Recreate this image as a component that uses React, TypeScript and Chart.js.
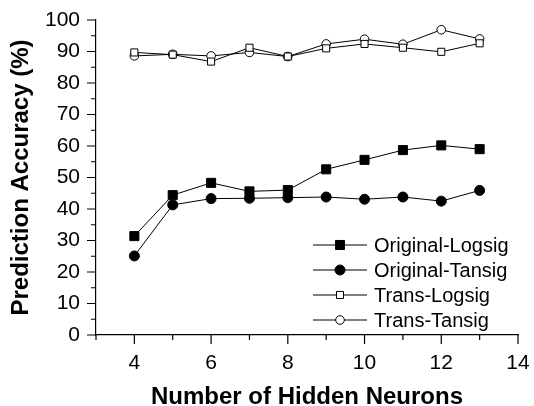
import React, { useEffect, useRef } from "react";
import { Chart, registerables } from "chart.js";

Chart.register(...registerables);

const hiddenNeurons = [4, 5, 6, 7, 8, 9, 10, 11, 12, 13];
const originalLogsig = [31.4, 44.4, 48.3, 45.6, 46.0, 52.6, 55.6, 58.7, 60.2, 59.0];
const originalTansig = [25.1, 41.3, 43.3, 43.4, 43.6, 43.8, 43.1, 43.8, 42.5, 45.9];
const transLogsig = [89.7, 89.0, 86.8, 91.2, 88.4, 91.0, 92.4, 91.2, 89.9, 92.6];
const transTansig = [88.6, 89.1, 88.6, 89.7, 88.4, 92.4, 93.9, 92.3, 96.9, 94.0];
const seriesNames = ["Original-Logsig", "Original-Tansig", "Trans-Logsig", "Trans-Tansig"];
const xTitle = "Number of Hidden Neurons";
const yTitle = "Prediction Accuracy (%)";

const FONT = "'Liberation Sans', Arial, Helvetica, sans-serif";

const tickMarks = {
  id: "tickMarks",
  afterDraw(chart: any) {
    const { ctx, chartArea, scales } = chart;
    const xs = scales.x;
    const ys = scales.y;
    ctx.save();
    ctx.strokeStyle = "#000";
    ctx.lineWidth = 1.2;
    ctx.beginPath();
    xs.ticks.forEach((t: any) => {
      const px = xs.getPixelForValue(t.value);
      const len = t.value % 2 === 0 ? 9 : 5;
      ctx.moveTo(px, chartArea.bottom);
      ctx.lineTo(px, chartArea.bottom + len);
    });
    ys.ticks.forEach((t: any) => {
      const py = ys.getPixelForValue(t.value);
      const len = t.value % 10 === 0 ? 9 : 5;
      ctx.moveTo(chartArea.left, py);
      ctx.lineTo(chartArea.left - len, py);
    });
    ctx.stroke();
    ctx.restore();
  },
};

const legendInside = {
  id: "legendInside",
  afterDraw(chart: any) {
    const { ctx, chartArea } = chart;
    const x0 = chartArea.right - 205;
    const y0 = chartArea.top + 225;
    const gap = 25;
    ctx.save();
    chart.data.datasets.forEach((ds: any, i: number) => {
      const y = y0 + i * gap;
      ctx.strokeStyle = "#000";
      ctx.lineWidth = 1;
      ctx.beginPath();
      ctx.moveTo(x0, y);
      ctx.lineTo(x0 + 54, y);
      ctx.stroke();
      const cx = x0 + 27;
      ctx.fillStyle = ds.pointBackgroundColor;
      ctx.beginPath();
      if (ds.pointStyle === "rect") {
        const s = ds.pointRadius * Math.SQRT1_2;
        ctx.rect(cx - s, y - s, 2 * s, 2 * s);
      } else {
        ctx.arc(cx, y, ds.pointRadius, 0, Math.PI * 2);
      }
      ctx.fill();
      ctx.stroke();
      ctx.fillStyle = "#000";
      ctx.font = `20px ${FONT}`;
      ctx.textAlign = "left";
      ctx.textBaseline = "middle";
      ctx.fillText(ds.label, x0 + 61, y + 1);
    });
    ctx.restore();
  },
};

const zeroPad = (s: any) => {
  s.paddingTop = 0;
  s.paddingBottom = 0;
  s.paddingLeft = 0;
  s.paddingRight = 0;
};

export default function App() {
  const ref = useRef<HTMLCanvasElement>(null);
  useEffect(() => {
    if (!ref.current) return;
    const mk = (label: string, data: number[], style: string, filled: boolean, r: number) => ({
      label,
      data: hiddenNeurons.map((x, i) => ({ x, y: data[i] })),
      borderColor: "#000",
      borderWidth: 1,
      pointStyle: style,
      pointRadius: r,
      pointBorderWidth: 1,
      pointBorderColor: "#000",
      pointBackgroundColor: filled ? "#000" : "#fff",
      showLine: true,
      fill: false,
      tension: 0,
    });
    const chart = new Chart(ref.current, {
      type: "scatter",
      data: {
        datasets: [
          mk(seriesNames[0], originalLogsig, "rect", true, 6.4),
          mk(seriesNames[1], originalTansig, "circle", true, 5),
          mk(seriesNames[2], transLogsig, "rect", false, 5),
          mk(seriesNames[3], transTansig, "circle", false, 4.3),
        ],
      } as any,
      options: {
        animation: false,
        responsive: false,
        devicePixelRatio: 1,
        layout: { padding: { left: 0, top: 20, right: 16, bottom: 0 } },
        plugins: { legend: { display: false }, tooltip: { enabled: false } },
        scales: {
          x: {
            type: "linear",
            min: 3,
            max: 14,
            afterFit: (s: any) => {
              s.height = 71;
              zeroPad(s);
            },
            ticks: {
              stepSize: 1,
              autoSkip: false,
              maxRotation: 0,
              padding: 16,
              color: "#000",
              font: { family: FONT, size: 21 },
              callback: (v: any) => (Number(v) % 2 === 0 ? String(v) : ""),
            },
            grid: { display: false, drawTicks: false },
            border: { display: true, color: "#000", width: 1.2 },
            title: {
              display: true,
              text: xTitle,
              color: "#000",
              font: { family: FONT, size: 24, weight: "bold", lineHeight: "17px" },
              padding: { top: 0, bottom: 0 },
            },
          },
          y: {
            type: "linear",
            min: 0,
            max: 100,
            afterFit: (s: any) => {
              s.width = 96;
              zeroPad(s);
            },
            ticks: {
              stepSize: 5,
              autoSkip: false,
              padding: 16,
              color: "#000",
              font: { family: FONT, size: 21 },
              callback: (v: any) => (Number(v) % 10 === 0 ? String(v) : ""),
            },
            grid: { display: false, drawTicks: false },
            border: { display: true, color: "#000", width: 1.2 },
            title: {
              display: true,
              text: yTitle,
              color: "#000",
              font: { family: FONT, size: 24, weight: "bold", lineHeight: 1.2 },
              padding: { top: 7, bottom: 0 },
            },
          },
        },
      } as any,
      plugins: [tickMarks, legendInside],
    });
    return () => chart.destroy();
  }, []);
  return (
    <canvas
      ref={ref}
      width={534}
      height={406}
      style={{ position: "absolute", left: 0, top: 0, width: 534, height: 406, background: "#fff" }}
    />
  );
}
